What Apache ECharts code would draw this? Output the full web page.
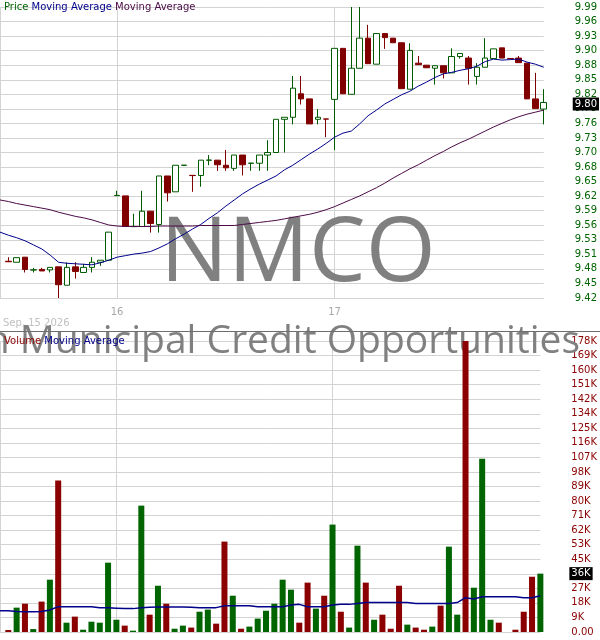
<!DOCTYPE html>
<html><head><meta charset="utf-8">
<script src="https://cdn.jsdelivr.net/npm/echarts@6/dist/echarts.min.js"></script>
<style>html,body{margin:0;padding:0;background:#fff}#c{width:600px;height:640px}</style>
</head><body><div id="c"></div>
<script>
// 15-minute bars; first slot is the (undrawn) bar before the visible window
const categories = [
 '15 12:30','15 12:45','15 13:00','15 13:15','15 13:30','15 13:45','15 14:00','15 14:15','15 14:30','15 14:45','15 15:00','15 15:15','15 15:30','15 15:45',
 '16 09:30','16 09:45','16 10:00','16 10:15','16 10:30','16 10:45','16 11:00','16 11:15','16 11:30','16 11:45','16 12:00','16 12:15','16 12:30','16 12:45',
 '16 13:00','16 13:15','16 13:30','16 13:45','16 14:00','16 14:15','16 14:30','16 14:45','16 15:00','16 15:15','16 15:30','16 15:45',
 '17 09:30','17 09:45','17 10:00','17 10:15','17 10:30','17 10:45','17 11:00','17 11:15','17 11:30','17 11:45','17 12:00','17 12:15','17 12:30','17 12:45',
 '17 13:00','17 13:15','17 13:30','17 13:45','17 14:00','17 14:15','17 14:30','17 14:45','17 15:00','17 15:15','17 15:30','17 15:45'
];
const priceOpen = [9.492,9.490,9.500,9.4748,9.476,9.475,9.481,9.445,9.481,9.470,
 9.480,9.490,9.494,9.6205,9.620,9.5598,9.560,9.590,9.564,9.659,
 9.628,9.6798,9.6602,9.660,9.6898,9.690,9.680,9.674,9.700,9.6838,
 9.684,9.700,9.705,9.770,9.774,9.820,9.810,9.770,9.7708,9.809,
 9.909,9.819,9.870,9.929,9.878,9.938,9.929,9.920,9.829,9.880,
 9.876,9.870,9.875,9.861,9.893,9.890,9.854,9.872,9.889,9.910,
 9.8892,9.890,9.880,9.810,9.790];
const priceClose = [9.491,9.499,9.476,9.4752,9.473,9.480,9.446,9.480,9.472,9.480,
 9.490,9.494,9.549,9.621,9.560,9.5602,9.590,9.566,9.659,9.626,
 9.680,9.6802,9.6598,9.690,9.6902,9.681,9.675,9.700,9.681,9.6842,
 9.700,9.705,9.770,9.774,9.831,9.810,9.761,9.774,9.7704,9.909,
 9.820,9.870,9.929,9.879,9.938,9.930,9.920,9.830,9.905,9.877,
 9.871,9.875,9.861,9.893,9.899,9.870,9.872,9.890,9.908,9.890,
 9.8888,9.881,9.810,9.791,9.803];
const priceLow = [9.491,9.490,9.470,9.470,9.473,9.470,9.420,9.445,9.458,9.470,
 9.470,9.483,9.494,9.6205,9.560,9.5598,9.560,9.548,9.548,9.609,
 9.628,9.6798,9.628,9.638,9.680,9.669,9.669,9.669,9.660,9.669,
 9.669,9.669,9.705,9.705,9.760,9.799,9.761,9.760,9.735,9.710,
 9.820,9.819,9.870,9.879,9.878,9.908,9.920,9.830,9.829,9.877,
 9.871,9.838,9.850,9.861,9.889,9.838,9.838,9.872,9.889,9.890,
 9.8888,9.881,9.810,9.791,9.760];
const priceHigh = [9.500,9.499,9.500,9.479,9.479,9.480,9.481,9.490,9.490,9.487,
 9.500,9.494,9.549,9.630,9.620,9.585,9.630,9.590,9.659,9.659,
 9.680,9.6802,9.6602,9.690,9.700,9.690,9.710,9.700,9.700,9.6842,
 9.700,9.729,9.770,9.774,9.855,9.855,9.810,9.790,9.7708,9.909,
 9.909,9.990,9.990,9.955,9.938,9.938,9.929,9.920,9.919,9.894,
 9.876,9.875,9.875,9.909,9.899,9.894,9.880,9.929,9.908,9.910,
 9.8892,9.894,9.880,9.861,9.829];
// moving averages, one value per slot (incl. first slot)
const maShort = [9.549,9.543,9.538,9.532,9.524,9.516,9.504,9.490,9.488,9.487,9.486,
 9.485,9.489,9.494,9.500,9.503,9.506,9.508,9.511,9.518,9.526,
 9.536,9.545,9.555,9.564,9.576,9.587,9.600,9.612,9.624,9.634,
 9.643,9.651,9.659,9.671,9.680,9.691,9.702,9.712,9.723,9.735,
 9.743,9.747,9.761,9.777,9.788,9.800,9.809,9.818,9.825,9.835,
 9.843,9.852,9.859,9.862,9.866,9.869,9.874,9.883,9.888,9.886,
 9.887,9.888,9.882,9.878,9.872];
const maLong = [9.612,9.609,9.605,9.602,9.599,9.596,9.593,9.588,9.584,9.580,9.577,
 9.573,9.568,9.563,9.561,9.560,9.560,9.560,9.560,9.561,9.561,
 9.561,9.561,9.561,9.562,9.562,9.562,9.562,9.562,9.564,9.566,
 9.568,9.570,9.572,9.575,9.578,9.581,9.584,9.588,9.593,9.599,
 9.606,9.613,9.620,9.628,9.636,9.645,9.655,9.664,9.673,9.681,
 9.690,9.699,9.707,9.716,9.724,9.731,9.739,9.747,9.755,9.762,
 9.769,9.775,9.780,9.784,9.788];
const volume = [1200,14900,17300,1800,18600,32000,92600,5700,9400,1400,
 6300,5700,42400,7500,3900,800,77300,10600,28300,17300,
 2000,3900,2700,12400,13700,5100,55300,22200,2000,3300,
 8200,13000,17300,32000,25900,5700,30200,14300,22200,65700,
 12400,2700,52800,30200,7500,10600,2000,28300,4500,2700,
 1400,3300,16100,52200,10600,178000,27100,106000,7500,5700,
 0,1400,12400,33800,35700];
const volumeMA = [13000,13000,12600,12400,12400,12600,13500,15500,15500,15500,15500,
 15500,14900,14900,14600,14300,14300,14900,15100,15300,15300,
 15300,15300,15100,14900,14900,14900,16100,16100,16100,16100,
 15500,15500,15500,15500,16500,16900,15500,15500,15500,16500,
 16900,16900,17500,18100,18100,18100,18100,18100,18100,17500,
 17500,17500,17500,17500,18000,21000,20200,21600,21600,21600,
 21600,21600,21000,21000,22200];
const priceAxis = {min: 9.42, max: 9.99, step: 0.0285};
const volumeAxis = {min: 0, max: 178000, step: 8900};
const startDateLabel = 'Sep, 15 2026';
const ticker = 'NMCO';
const fundName = 'Nuveen Municipal Credit Opportunities';

const candleData = ['-'].concat(priceOpen.map((o, i) => [o, priceClose[i], priceLow[i], priceHigh[i]]));
const volData = ['-'].concat(volume);
const isDayStart = (v) => typeof v === 'string' && v.slice(3) === '09:30';
const fmtPrice = v => (Math.round(v * 100 - 1e-6) / 100).toFixed(2);
const GRID = '#d3d3d3';
const FONT = 'DejaVu Sans';
const lastClose = priceClose[priceClose.length - 1];
const lastVol = volume[volume.length - 1];

const chart = echarts.init(document.getElementById('c'), null, {renderer: 'canvas'});
const xBase = (gi, showLabel) => ({
  type: 'category', gridIndex: gi, data: categories, boundaryGap: false,
  axisLine: {show: false}, axisTick: {show: false},
  axisLabel: {show: showLabel, interval: (i, v) => isDayStart(v), formatter: v => v.slice(0, 2),
    color: '#a8a8a8', fontSize: 10, fontFamily: FONT, margin: 9},
  splitLine: {show: true, interval: (i, v) => i === 0 || isDayStart(v), lineStyle: {color: GRID, width: 1}}
});
const lastLabel = (text) => ({
  silent: true, symbol: 'none', lineStyle: {color: 'rgba(0,0,0,0)', width: 0},
  label: {show: true, position: 'end', distance: 29, formatter: () => text, color: '#ffffff', backgroundColor: '#000000',
    padding: [2, 2, 1, 2], fontSize: 10, fontFamily: FONT}
});
chart.setOption({
  animation: false,
  backgroundColor: '#ffffff',
  grid: [
    {left: 0, right: 54, top: 7, height: 291},
    {left: 0, right: 54, top: 341, height: 291}
  ],
  xAxis: [xBase(0, true), xBase(1, false)],
  yAxis: [
    {type: 'value', gridIndex: 0, position: 'right', min: priceAxis.min, max: priceAxis.max, interval: priceAxis.step,
      axisLine: {show: false}, axisTick: {show: false},
      axisLabel: {color: '#006400', fontSize: 10, fontFamily: FONT, margin: 31, formatter: fmtPrice},
      splitLine: {lineStyle: {color: GRID, width: 1}}},
    {type: 'value', gridIndex: 1, position: 'right', min: volumeAxis.min, max: volumeAxis.max, interval: volumeAxis.step,
      axisLine: {show: false}, axisTick: {show: false},
      axisLabel: {color: '#8b0000', fontSize: 10, fontFamily: FONT, margin: 31,
        formatter: v => v === 0 ? '0.00' : Math.round(v / 1000) + 'K'},
      splitLine: {lineStyle: {color: GRID, width: 1}}}
  ],
  graphic: [
    {type: 'text', left: 4, top: 2, z: 5, style: {
      text: '{g|Price} {b|Moving Average} {p|Moving Average}', font: '10px "DejaVu Sans"',
      rich: {g: {fill: '#006400', font: '10px "DejaVu Sans"'}, b: {fill: '#00008b', font: '10px "DejaVu Sans"'}, p: {fill: '#4b0a46', font: '10px "DejaVu Sans"'}}}},
    {type: 'text', x: 298, y: 255, z: 1, style: {text: ticker, font: '90px "Open Sans"', fill: '#808080', align: 'center', verticalAlign: 'middle'}},
    {type: 'text', x: 580, y: 342, z: 1, style: {text: fundName, font: '39px "Open Sans"', fill: '#808080', align: 'right', verticalAlign: 'middle'}},
    {type: 'text', x: 3, y: 318, z: 5, style: {text: startDateLabel, font: '10px "DejaVu Sans"', fill: '#c0c0c0'}},
    {type: 'line', z: 5, shape: {x1: 0, y1: 331.5, x2: 600, y2: 331.5}, style: {stroke: '#6e6e6e', lineWidth: 1}},
    {type: 'text', left: 4, top: 336, z: 5, style: {
      text: '{r|Volume} {b|Moving Average}', font: '10px "DejaVu Sans"',
      rich: {r: {fill: '#8b0000', font: '10px "DejaVu Sans"'}, b: {fill: '#00008b', font: '10px "DejaVu Sans"'}}}}
  ],
  series: [
    {type: 'candlestick', name: 'Price', xAxisIndex: 0, yAxisIndex: 0, data: candleData, barWidth: 6,
      itemStyle: {color: '#ffffff', color0: '#800000', borderColor: '#005a00', borderColor0: '#800000', borderWidth: 1},
      markLine: Object.assign(lastLabel(fmtPrice(lastClose)), {data: [{yAxis: lastClose}]})},
    {type: 'line', name: 'MA short', xAxisIndex: 0, yAxisIndex: 0, data: maShort, symbol: 'none', z: 3,
      lineStyle: {color: '#00008b', width: 1}},
    {type: 'line', name: 'MA long', xAxisIndex: 0, yAxisIndex: 0, data: maLong, symbol: 'none', z: 3,
      lineStyle: {color: '#4b0a46', width: 1}},
    {type: 'bar', name: 'Volume', xAxisIndex: 1, yAxisIndex: 1, data: volData, barWidth: 6,
      itemStyle: {color: p => (priceClose[p.dataIndex - 1] >= priceOpen[p.dataIndex - 1] ? '#006400' : '#8b0000')},
      markLine: Object.assign(lastLabel(Math.round(lastVol / 1000) + 'K'), {data: [{yAxis: lastVol}]})},
    {type: 'line', name: 'Volume MA', xAxisIndex: 1, yAxisIndex: 1, data: volumeMA, symbol: 'none', z: 3,
      lineStyle: {color: '#00008b', width: 1.5}}
  ]
});
</script></body></html>
